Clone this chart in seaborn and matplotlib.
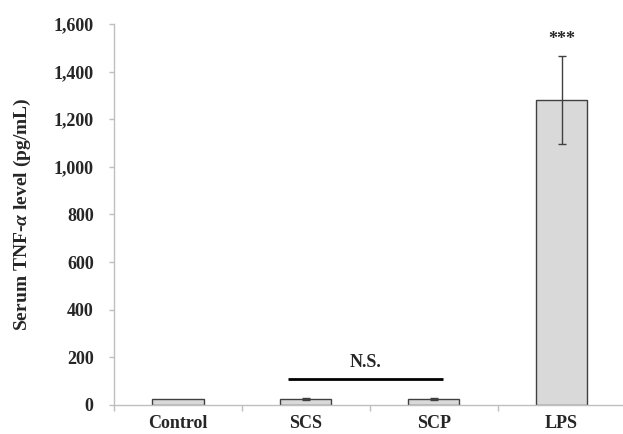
import matplotlib
matplotlib.use("Agg")
import matplotlib.pyplot as plt
import seaborn as sns
import pandas as pd
from matplotlib.ticker import FuncFormatter, FixedLocator

categories = ["Control", "SCS", "SCP", "LPS"]
values = [25, 25, 25, 1280]
errors = [0, 3, 3, 183]
yticks = [0, 200, 400, 600, 800, 1000, 1200, 1400, 1600]
ns_level = 108

sns.set_theme(style="white")
plt.rcParams['font.family'] = ['Liberation Serif', 'DejaVu Serif']
plt.rcParams['mathtext.fontset'] = 'custom'
plt.rcParams['mathtext.it'] = 'Liberation Serif:bold:italic'
plt.rcParams['mathtext.rm'] = 'Liberation Serif:bold'
plt.rcParams['mathtext.bf'] = 'Liberation Serif:bold'

df = pd.DataFrame({"group": categories, "value": values})

fig = plt.figure(figsize=(6.23, 4.34), dpi=100)
ax = fig.add_axes([0.183, 0.067, 0.817, 0.878])

sns.barplot(data=df, x="group", y="value", order=categories, color="#d9d9d9",
            edgecolor="#404040", linewidth=1.0, width=0.4, saturation=1,
            errorbar=None, ax=ax)
xs = list(range(len(categories)))
ax.errorbar(xs[1:], values[1:], yerr=errors[1:], fmt="none", ecolor="#404040",
            elinewidth=1.0, capsize=3, capthick=1.0)

ax.set_xlim(-0.5, 3.48)
ax.set_ylim(0, 1600)
ax.set_yticks(yticks)
ax.yaxis.set_major_formatter(FuncFormatter(lambda v, p: f"{int(v):,}"))
ax.set_xlabel("")
ax.set_ylabel("Serum TNF-$\\alpha$ level (pg/mL)", fontsize=14,
              fontweight="bold", labelpad=15)

for lab in ax.get_xticklabels() + ax.get_yticklabels():
    lab.set_fontweight("bold")
ax.tick_params(axis="y", labelsize=13, length=3.6, width=1, color="#bfbfbf",
               direction="out", left=True, pad=11)
ax.tick_params(axis="x", which="major", labelsize=13, length=0, pad=7)
ax.xaxis.set_minor_locator(FixedLocator([-0.5, 0.5, 1.5, 2.5]))
ax.tick_params(axis="x", which="minor", length=4, width=1, color="#bfbfbf",
               direction="out", bottom=True)

for s in ["top", "right"]:
    ax.spines[s].set_visible(False)
for s in ["left", "bottom"]:
    ax.spines[s].set_color("#bfbfbf")
    ax.spines[s].set_linewidth(1.0)

# significance annotations
ax.plot([0.86, 2.07], [ns_level, ns_level], color="black", linewidth=2,
        solid_capstyle="butt")
ax.text(1.47, ns_level + 35, "N.S.", ha="center", va="bottom",
        fontsize=13, fontweight="bold")
ax.text(3, values[3] + errors[3] + 35, "***", ha="center", va="bottom",
        fontsize=13, fontweight="bold")

fig.savefig("out.png", dpi=100)
